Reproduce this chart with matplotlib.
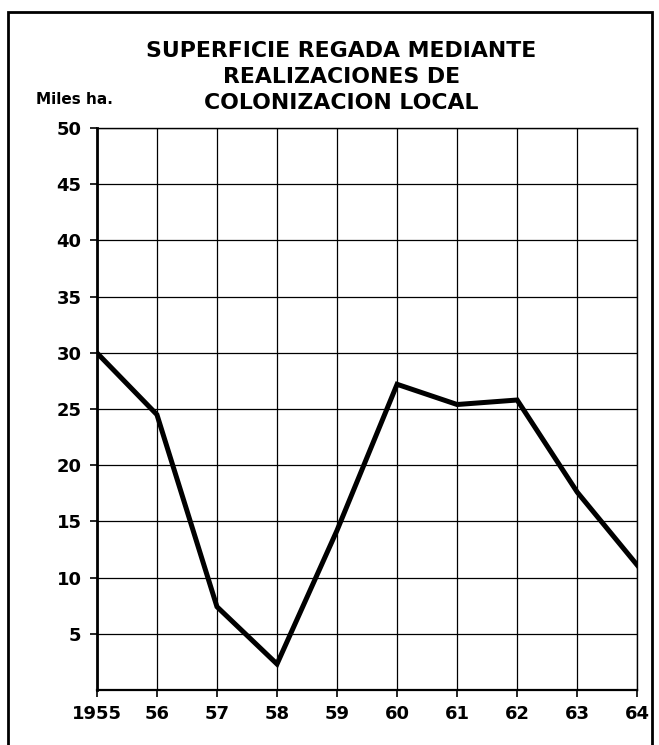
import numpy as np
import matplotlib.pyplot as plt
from matplotlib.patches import Rectangle

# data (miles de ha.)
years = [1955, 1956, 1957, 1958, 1959, 1960, 1961, 1962, 1963, 1964]
year_labels = ["1955", "56", "57", "58", "59", "60", "61", "62", "63", "64"]
superficie = [30.0, 24.5, 7.4, 2.3, 14.2, 27.2, 25.4, 25.8, 17.6, 11.1]
yticks = [5, 10, 15, 20, 25, 30, 35, 40, 45, 50]

fig = plt.figure(figsize=(6.59, 7.45), dpi=100)
ax = fig.add_axes([0.147, 0.074, 0.82, 0.754])

ax.plot(years, superficie, color="black", lw=3.6, solid_joinstyle="miter")

ax.set_xlim(1955, 1964)
ax.set_ylim(0, 50)
ax.set_xticks(years)
ax.set_xticklabels(year_labels)
ax.set_yticks(yticks)
ax.grid(True, color="black", lw=0.9)
for s in ax.spines.values():
    s.set_linewidth(1.0)
ax.spines["left"].set_linewidth(2.0)
ax.spines["bottom"].set_linewidth(1.6)
ax.tick_params(length=5, width=1.2, color="black", pad=6)
for lab in ax.get_xticklabels() + ax.get_yticklabels():
    lab.set_fontsize(13)
    lab.set_fontweight("bold")

# title, three lines
title_lines = ["SUPERFICIE REGADA MEDIANTE", "REALIZACIONES DE", "COLONIZACION LOCAL"]
for i, line in enumerate(title_lines):
    fig.text(0.518, 0.932 - i * 0.035, line, ha="center", va="center",
             fontsize=15.8, fontweight="semibold")
fig.text(0.055, 0.866, "Miles ha.", ha="left", va="center", fontsize=11,
         fontweight="bold")

# outer frame
fig.patches.append(Rectangle((0.012, -0.01), 0.977, 0.994, transform=fig.transFigure,
                             fill=False, lw=2.0, edgecolor="black"))

fig.savefig("out.png", dpi=100)
